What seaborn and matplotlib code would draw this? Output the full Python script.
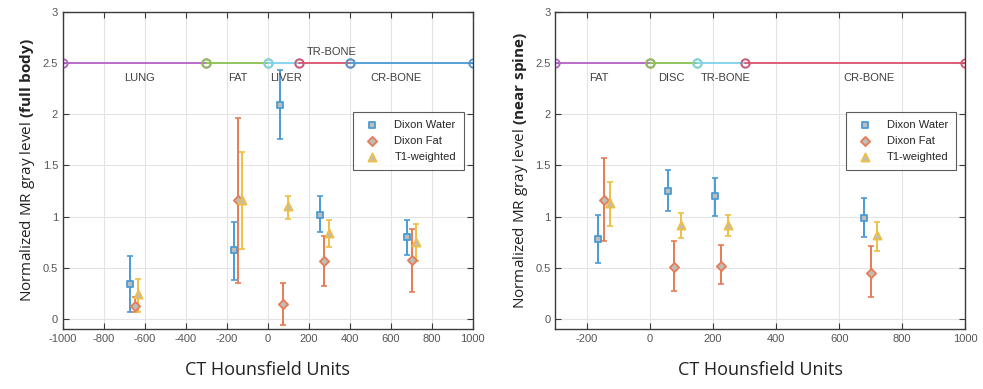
import matplotlib
matplotlib.use("Agg")
import matplotlib.pyplot as plt
import numpy as np
import pandas as pd
import seaborn as sns

sns.set_style("whitegrid")
plt.rcParams["font.family"] = ["Liberation Sans", "DejaVu Sans"]
plt.rcParams["mathtext.fontset"] = "custom"
plt.rcParams["mathtext.rm"] = "Open Sans"
plt.rcParams["mathtext.bf"] = "Open Sans:bold"
plt.rcParams["axes.unicode_minus"] = False

# ---- data: full body (left) ----
fb_water_x = [-675, -167, 57, 255, 681]
fb_water_y = [0.34, 0.67, 2.09, 1.02, 0.80]
fb_water_lo = [0.07, 0.38, 1.76, 0.85, 0.62]
fb_water_hi = [0.61, 0.95, 2.43, 1.20, 0.97]

fb_fat_x = [-650, -148, 76, 273, 702]
fb_fat_y = [0.13, 1.16, 0.15, 0.57, 0.58]
fb_fat_lo = [0.065, 0.35, -0.06, 0.32, 0.26]
fb_fat_hi = [0.21, 1.96, 0.355, 0.81, 0.88]

fb_t1_x = [-634, -127, 99, 300, 724]
fb_t1_y = [0.24, 1.16, 1.10, 0.84, 0.75]
fb_t1_lo = [0.065, 0.68, 0.98, 0.70, 0.57]
fb_t1_hi = [0.39, 1.63, 1.20, 0.97, 0.93]

fb_regions = ["LUNG", "FAT", "LIVER", "TR-BONE", "CR-BONE"]
fb_bounds = [-1000, -300, 0, 150, 400, 1000]
fb_label_x = [-626, -146, 90, 310, 626]
fb_label_above = [False, False, False, True, False]

# ---- data: near spine (right) ----
ns_water_x = [-166, 57, 205, 680]
ns_water_y = [0.78, 1.25, 1.20, 0.99]
ns_water_lo = [0.55, 1.05, 1.01, 0.80]
ns_water_hi = [1.02, 1.46, 1.38, 1.18]

ns_fat_x = [-145, 76, 225, 700]
ns_fat_y = [1.16, 0.51, 0.52, 0.45]
ns_fat_lo = [0.76, 0.27, 0.34, 0.21]
ns_fat_hi = [1.57, 0.76, 0.72, 0.71]

ns_t1_x = [-126, 97, 246, 720]
ns_t1_y = [1.13, 0.92, 0.92, 0.82]
ns_t1_lo = [0.91, 0.79, 0.81, 0.66]
ns_t1_hi = [1.34, 1.04, 1.02, 0.95]

ns_regions = ["FAT", "DISC", "TR-BONE", "CR-BONE"]
ns_bounds = [-300, 0, 150, 300, 1000]
ns_label_x = [-163, 67, 241, 694]
ns_label_above = [False, False, False, False]

region_level = 2.5

BLUE = "#4a9bd6"
ORANGE = "#e67c55"
YELLOW = "#efbf45"
FILL = "#c0bcb8"
fb_region_colors = ["#b562c8", "#8cc152", "#7fd3ee", "#d9536e", "#4a9bd6"]
ns_region_colors = ["#b562c8", "#8cc152", "#7fd3ee", "#d9536e"]


def draw_panel(ax, series, regions, bounds, colors, label_x, label_above,
               xlim, xticks, region_name):
    # region bars at y = 2.5
    for i, name in enumerate(regions):
        seg = pd.DataFrame({"x": [bounds[i], bounds[i + 1]],
                            "y": [region_level, region_level]})
        sns.lineplot(data=seg, x="x", y="y", ax=ax, color=colors[i], lw=1.3,
                     marker="o", markersize=6, markerfacecolor="none",
                     markeredgecolor=colors[i], markeredgewidth=1.3)
        dy = 0.11 if label_above[i] else -0.14
        ax.text(label_x[i], region_level + dy, name, ha="center", va="center",
                fontsize=8, color="#404040")

    # measurements with error bars
    for label, x, y, lo, hi, color, mk, ms in series:
        y = np.array(y)
        yerr = [y - np.array(lo), np.array(hi) - y]
        ax.errorbar(x, y, yerr=yerr, fmt="none", ecolor=color, elinewidth=1.4,
                    capsize=2.5, capthick=1.2)
        df = pd.DataFrame({"x": x, "y": y})
        sns.scatterplot(data=df, x="x", y="y", ax=ax, marker=mk, s=ms,
                        facecolor=FILL, edgecolor=color, linewidth=1.3,
                        label=label, zorder=3)

    ax.set_xlim(*xlim)
    ax.set_ylim(-0.1, 3)
    ax.set_xticks(xticks)
    ax.set_yticks(np.arange(0, 3.01, 0.5))
    ax.set_yticklabels(["0", "0.5", "1", "1.5", "2", "2.5", "3"])
    ax.grid(True, color="#e4e4e4", lw=0.8)
    for sp in ax.spines.values():
        sp.set_color("#3a3a3a")
        sp.set_linewidth(1.0)
    ax.tick_params(axis="both", direction="in", length=4, colors="#3a3a3a",
                   labelcolor="#555555", labelsize=8, top=True, right=True,
                   bottom=True, left=True)
    ax.set_xlabel("CT Hounsfield Units", fontsize=13, family="Open Sans",
                  color="#222222", labelpad=12)
    ax.set_ylabel(r"Normalized MR gray level $\bf{(" + region_name + ")}$",
                  fontsize=11, family="Open Sans", color="#222222", labelpad=4)
    leg = ax.legend(loc="upper right", bbox_to_anchor=(0.978, 0.685), fontsize=8,
                    frameon=True, fancybox=False, edgecolor="#333333",
                    borderpad=0.7, handletextpad=1.0, labelspacing=0.55,
                    borderaxespad=0)
    leg.get_frame().set_linewidth(0.8)


fig = plt.figure(figsize=(9.83, 3.89), dpi=100)
ax1 = fig.add_axes([0.064, 0.154, 0.417, 0.815])
ax2 = fig.add_axes([0.565, 0.154, 0.417, 0.815])

fb_series = [
    ("Dixon Water", fb_water_x, fb_water_y, fb_water_lo, fb_water_hi, BLUE, "s", 22),
    ("Dixon Fat", fb_fat_x, fb_fat_y, fb_fat_lo, fb_fat_hi, ORANGE, "D", 22),
    ("T1-weighted", fb_t1_x, fb_t1_y, fb_t1_lo, fb_t1_hi, YELLOW, "^", 34),
]
ns_series = [
    ("Dixon Water", ns_water_x, ns_water_y, ns_water_lo, ns_water_hi, BLUE, "s", 22),
    ("Dixon Fat", ns_fat_x, ns_fat_y, ns_fat_lo, ns_fat_hi, ORANGE, "D", 22),
    ("T1-weighted", ns_t1_x, ns_t1_y, ns_t1_lo, ns_t1_hi, YELLOW, "^", 34),
]

draw_panel(ax1, fb_series, fb_regions, fb_bounds, fb_region_colors,
           fb_label_x, fb_label_above, (-1000, 1000), np.arange(-1000, 1001, 200),
           r"full\ body")
draw_panel(ax2, ns_series, ns_regions, ns_bounds, ns_region_colors,
           ns_label_x, ns_label_above, (-300, 1000), np.arange(-200, 1001, 200),
           r"near\ spine")

fig.savefig("out.png", dpi=100)
